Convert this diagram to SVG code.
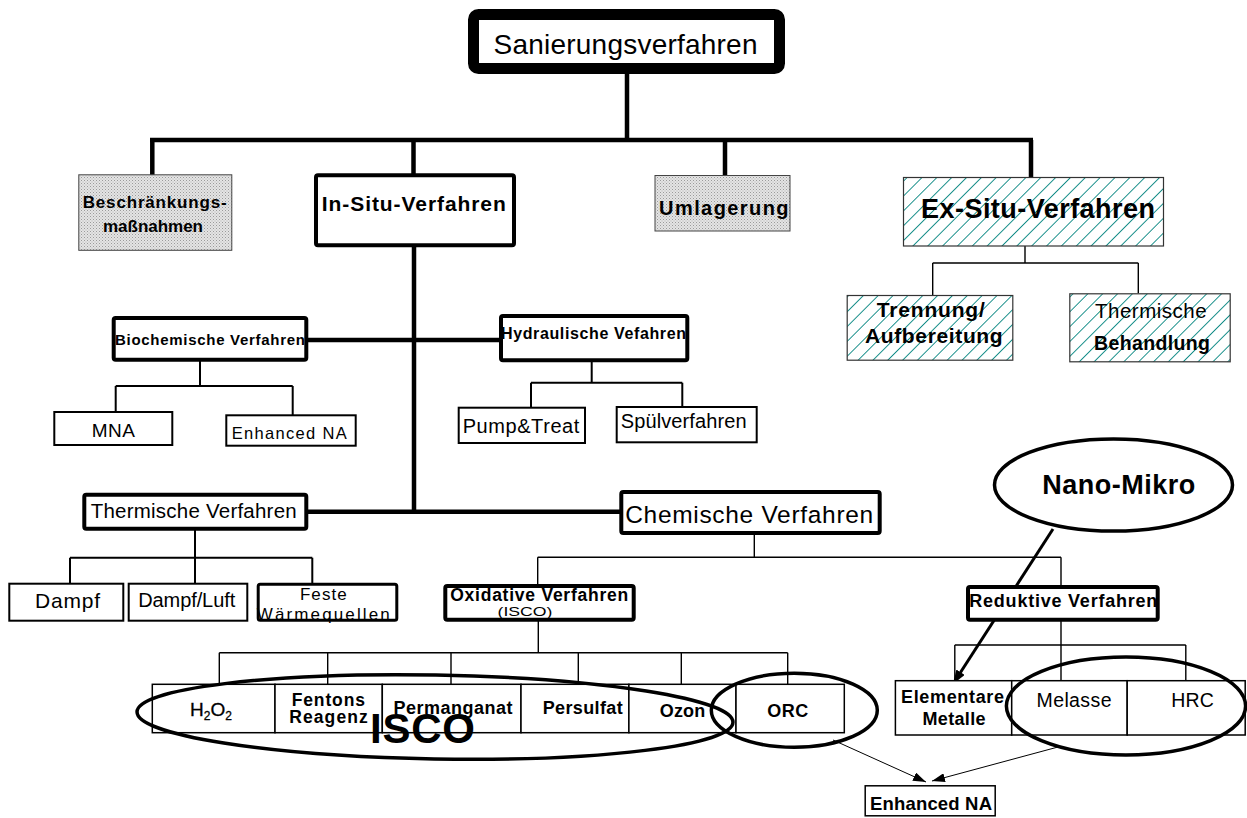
<svg xmlns="http://www.w3.org/2000/svg" width="1247" height="818" viewBox="0 0 1247 818">
<defs>
  <pattern id="dots" width="3" height="3" patternUnits="userSpaceOnUse">
    <rect width="3" height="3" fill="#e4e4e4"/>
    <rect width="1" height="1" fill="#9a9a9a"/>
    <rect x="1.5" y="1.5" width="1" height="1" fill="#b0b0b0"/>
  </pattern>
  <pattern id="hatch" width="10.5" height="10.5" patternUnits="userSpaceOnUse" patternTransform="rotate(45)">
    <rect width="10.5" height="10.5" fill="#ffffff"/>
    <line x1="0" y1="0" x2="0" y2="10.5" stroke="#128c87" stroke-width="1.9"/>
  </pattern>
  <marker id="ah" markerUnits="userSpaceOnUse" markerWidth="14" markerHeight="10" refX="14" refY="5" orient="auto">
    <path d="M0,0 L14,5 L0,10 z" fill="#000"/>
  </marker>
  <marker id="ahs" markerUnits="userSpaceOnUse" markerWidth="13" markerHeight="9" refX="13" refY="4.5" orient="auto">
    <path d="M0,0 L13,4.5 L0,9 z" fill="#000"/>
  </marker>
</defs>
<style>
  text { font-family: "Liberation Sans", Arial, sans-serif; fill: #000; }
  .b { font-weight: bold; }
  .thick { fill: #fff; stroke: #000; stroke-width: 4; }
  .leaf { fill: #fff; stroke: #000; stroke-width: 2; }
  .cell { fill: #fff; stroke: #000; stroke-width: 1.5; }
  .gray { fill: url(#dots); stroke: #444; stroke-width: 1; }
  .hatch { fill: url(#hatch); stroke: #333; stroke-width: 1.2; }
  .c4 { fill: none; stroke: #000; stroke-width: 4.5; }
  .c2 { fill: none; stroke: #000; stroke-width: 2; }
  .c1 { fill: none; stroke: #000; stroke-width: 1.4; }
  .ell { fill: none; stroke: #000; stroke-width: 3.5; }
  .mid { text-anchor: middle; }
</style>

<g id="connectors">
  <path class="c4" d="M627,74 V140 M150,140 H1033 M152.3,140 V175 M413.5,140 V174 M725,140 V176 M1031,140 V178"/>
  <path class="c4" d="M414,247 V511.7 M306,340 H502 M306,511.7 H622"/>
  <path class="c1" d="M1025,246 V263 M932.7,263 H1138.3 M932.7,263 V295 M1138.3,263 V293.3"/>
  <path class="c2" d="M200,361 V386 M115.7,386 H292.7 M115.7,386 V412 M292.7,386 V415"/>
  <path class="c2" d="M591.7,361 V382.7 M531,382.7 H682.3 M531,382.7 V407.7 M682.3,382.7 V407"/>
  <path class="c2" d="M195,530 V583.7 M70,557.7 H312.3 M70,557.7 V583.7 M312.3,557.7 V584"/>
  <path class="c1" d="M754.3,534 V557.3 M537.7,557.3 H1061 M537.7,557.3 V585 M1061,557.3 V586"/>
  <path class="c1" d="M538.3,620 V652.7 M219.3,652.7 H787.7 M219.3,652.7 V684.3 M327.7,652.7 V684.3 M451,652.7 V684.3 M578.3,652.7 V684.3 M681.3,652.7 V684.3 M787.7,652.7 V684.3"/>
  <path class="c1" d="M1061,620 V680.7 M954.8,645 H1185.8 M954.8,645 V680.7 M1185.8,645 V680.7"/>
  <path d="M1053,529 L953,684" fill="none" stroke="#000" stroke-width="3" marker-end="url(#ah)"/>
  <path d="M833,740 L926,782" fill="none" stroke="#000" stroke-width="1" marker-end="url(#ahs)"/>
  <path d="M1058,747 L932,781" fill="none" stroke="#000" stroke-width="1" marker-end="url(#ahs)"/>
</g>

<g id="n-sanierung">
  <rect x="473.5" y="14.5" width="306" height="54" rx="5" fill="#fff" stroke="#000" stroke-width="11"/>
  <text x="625.5" y="54.3" class="mid" font-size="28" textLength="264">Sanierungsverfahren</text>
</g>

<g id="n-beschraenkung">
  <rect class="gray" x="78.8" y="174.8" width="153" height="75.5"/>
  <text x="154.7" y="207.7" class="mid b" font-size="17" textLength="144" fill="#111">Beschränkungs-</text>
  <text x="153" y="231.7" class="mid b" font-size="17" textLength="100">maßnahmen</text>
</g>

<g id="n-insitu">
  <rect class="thick" x="316" y="175.3" width="198" height="70" rx="2"/>
  <text x="413.8" y="210.7" class="mid b" font-size="21" textLength="184">In-Situ-Verfahren</text>
</g>

<g id="n-umlagerung">
  <rect class="gray" x="655" y="175.5" width="135" height="55.5"/>
  <text x="723.8" y="215" class="mid b" font-size="20" textLength="129.5">Umlagerung</text>
</g>

<g id="n-exsitu">
  <rect class="hatch" x="903.5" y="177.5" width="260" height="68.5"/>
  <text x="1038" y="218.3" class="mid b" font-size="27" textLength="234">Ex-Situ-Verfahren</text>
</g>

<g id="n-trennung">
  <rect class="hatch" x="847.2" y="295.5" width="165.6" height="64.7"/>
  <text x="930.8" y="316.7" class="mid b" font-size="21" textLength="108">Trennung/</text>
  <text x="933.8" y="343.3" class="mid b" font-size="21" textLength="137.7">Aufbereitung</text>
</g>

<g id="n-thermbeh">
  <rect class="hatch" x="1069.8" y="293.8" width="160.4" height="68"/>
  <text x="1150.8" y="318.3" class="mid" font-size="20.5" textLength="111.7">Thermische</text>
  <text x="1152" y="350" class="mid b" font-size="19.5" textLength="116">Behandlung</text>
</g>

<g id="n-biochem">
  <rect class="thick" x="113.7" y="318" width="192.6" height="41.7" rx="2"/>
  <text x="210" y="345" class="mid b" font-size="15" textLength="190">Biochemische Verfahren</text>
</g>

<g id="n-hydraulisch">
  <rect class="thick" x="501" y="316" width="186.3" height="44.3" rx="2"/>
  <text x="593.5" y="339" class="mid b" font-size="16" textLength="185">Hydraulische Vefahren</text>
</g>

<g id="n-mna">
  <rect class="leaf" x="54.3" y="412" width="118" height="33"/>
  <text x="113.3" y="436.7" class="mid" font-size="19" textLength="43.3">MNA</text>
</g>

<g id="n-enhanced1">
  <rect class="leaf" x="226.3" y="415.3" width="129.4" height="30.4"/>
  <text x="289.2" y="439.3" class="mid" font-size="16.5" textLength="115" fill="#222">Enhanced NA</text>
</g>

<g id="n-pump">
  <rect class="leaf" x="458.7" y="407.7" width="126.3" height="35.3"/>
  <text x="521" y="433.3" class="mid" font-size="20" textLength="116.7">Pump&amp;Treat</text>
</g>

<g id="n-spuel">
  <rect class="leaf" x="616.7" y="407" width="140" height="35.3"/>
  <text x="683.7" y="428.3" class="mid" font-size="20" textLength="126">Spülverfahren</text>
</g>

<g id="n-thermverf">
  <rect class="thick" x="84.3" y="494.7" width="222" height="34" rx="2"/>
  <text x="193.7" y="517.7" class="mid" font-size="20.5" textLength="206">Thermische Verfahren</text>
</g>

<g id="n-dampf">
  <rect class="leaf" x="9.3" y="583.7" width="114" height="37"/>
  <text x="67.5" y="608.3" class="mid" font-size="21" textLength="65">Dampf</text>
</g>

<g id="n-dampfluft">
  <rect class="leaf" x="128.7" y="583.7" width="118.6" height="37"/>
  <text x="186.7" y="606.7" class="mid" font-size="20" textLength="97">Dampf/Luft</text>
</g>

<g id="n-feste">
  <rect x="258.2" y="584.2" width="138.6" height="36" rx="2" fill="#fff" stroke="#000" stroke-width="3"/>
  <text x="323.3" y="600" class="mid" font-size="17" textLength="46.7">Feste</text>
  <text x="323.3" y="620" class="mid" font-size="17" textLength="133">Wärmequellen</text>
</g>

<g id="n-chemisch">
  <rect class="thick" x="621.3" y="492" width="258.4" height="41" rx="2"/>
  <text x="749.2" y="523.3" class="mid" font-size="24.5" textLength="248">Chemische Verfahren</text>
</g>

<g id="n-oxidativ">
  <rect class="thick" x="445.3" y="586" width="188.4" height="33.7" rx="2"/>
  <text x="539.2" y="601.3" class="mid b" font-size="17.5" textLength="178">Oxidative Verfahren</text>
  <text x="525" y="616.3" class="mid" font-size="13" textLength="55" lengthAdjust="spacingAndGlyphs">(ISCO)</text>
</g>

<g id="n-reduktiv">
  <rect class="thick" x="968" y="587" width="189.7" height="32.7" rx="2"/>
  <text x="1063.3" y="606.7" class="mid b" font-size="18" textLength="188">Reduktive Verfahren</text>
</g>

<g id="n-nanomikro">
  <ellipse class="ell" cx="1113.5" cy="485" rx="119" ry="46" stroke-width="3"/>
  <text x="1118.7" y="494" class="mid b" font-size="27" textLength="153">Nano-Mikro</text>
</g>

<g id="n-oxrow">
  <rect class="cell" x="152.3" y="684.3" width="122.7" height="48.4"/>
  <rect class="cell" x="275" y="684.3" width="107.3" height="48.4"/>
  <rect class="cell" x="382.3" y="684.3" width="138.7" height="48.4"/>
  <rect class="cell" x="521" y="684.3" width="107.9" height="48.4"/>
  <rect class="cell" x="628.9" y="684.3" width="107.1" height="48.4"/>
  <rect class="cell" x="736" y="684.3" width="108.3" height="48.4"/>
  <text x="211" y="716" class="mid" font-size="19" stroke="#000" stroke-width="0.3">H<tspan font-size="12" dy="4">2</tspan><tspan dy="-4">O</tspan><tspan font-size="12" dy="4">2</tspan></text>
  <text x="328.3" y="705.7" class="mid b" font-size="17.5" textLength="73.3">Fentons</text>
  <text x="328.5" y="723.3" class="mid b" font-size="17.5" textLength="78.4">Reagenz</text>
  <text x="453" y="714" class="mid b" font-size="18" textLength="119">Permanganat</text>
  <text x="582.7" y="714" class="mid b" font-size="18" textLength="80">Persulfat</text>
  <text x="682.5" y="716.7" class="mid b" font-size="18" textLength="45.4">Ozon</text>
  <text x="787.7" y="716.7" class="mid b" font-size="18" textLength="41">ORC</text>
</g>

<g id="n-isco">
  <ellipse class="ell" cx="435" cy="717" rx="298" ry="42" transform="rotate(1 435 717)"/>
  <text x="422.5" y="742.7" class="mid b" font-size="42" textLength="105">ISCO</text>
</g>

<g id="n-orc-ellipse">
  <ellipse class="ell" cx="794.3" cy="710.3" rx="83" ry="37"/>
</g>

<g id="n-redrow">
  <rect class="cell" x="895.4" y="680.7" width="116.3" height="54.3"/>
  <rect class="cell" x="1011.7" y="680.7" width="115.5" height="54.3"/>
  <rect class="cell" x="1127.2" y="680.7" width="118" height="54.3"/>
  <text x="952.5" y="703.3" class="mid b" font-size="18" textLength="103">Elementare</text>
  <text x="954" y="725" class="mid b" font-size="18" textLength="63">Metalle</text>
  <text x="1074" y="706.7" class="mid" font-size="19.5" textLength="75" fill="#333">Melasse</text>
  <text x="1192.6" y="706.7" class="mid" font-size="19.5" textLength="42.5" fill="#333">HRC</text>
</g>

<g id="n-melasse-ellipse">
  <ellipse class="ell" cx="1126" cy="706" rx="119.6" ry="49"/>
</g>

<g id="n-enhanced2">
  <rect class="cell" x="865.2" y="785.8" width="130" height="30"/>
  <text x="931" y="810" class="mid b" font-size="18.5" textLength="122">Enhanced NA</text>
</g>
</svg>
